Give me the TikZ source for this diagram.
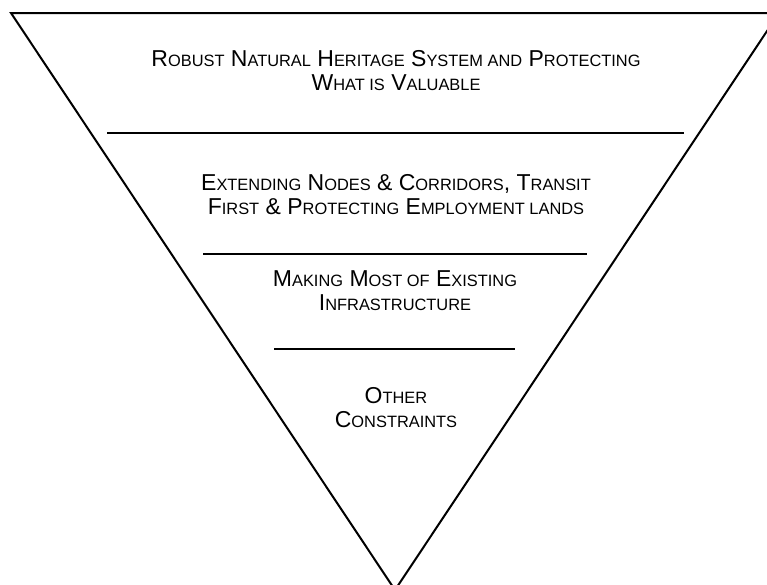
\documentclass[tikz,border=0pt]{standalone}
\usepackage{fontspec}
\setmainfont{Liberation Sans}
% Small capitals built by hand: full caps at the body size, smaller caps here
\newcommand\lc[1]{{\fontsize{16.4}{24}\selectfont #1}}
\begin{document}
\begin{tikzpicture}[x=1pt,y=-1pt,
  edge/.style={line width=2pt, line join=miter},
  tier/.style={align=center, font=\fontsize{23}{24}\selectfont, inner sep=0pt}]
\useasboundingbox (0,0) rectangle (767,584);
\clip (0,0) rectangle (767,584);
% outer inverted triangle
\coordinate (tl) at (11,13);
\coordinate (tr) at (779,13);
\coordinate (apex) at (395,590);
\draw[edge] (tl) -- (tr) -- (apex) -- cycle;
% dividers between the tiers
\coordinate (d1l) at (107,133); \coordinate (d1r) at (684,133);
\coordinate (d2l) at (203,254); \coordinate (d2r) at (587,254);
\coordinate (d3l) at (274,349); \coordinate (d3r) at (515,349);
\draw[edge] (d1l) -- (d1r);
\draw[edge] (d2l) -- (d2r);
\draw[edge] (d3l) -- (d3r);
% tier labels
\node[tier] (t1) at (396,71) {R\lc{OBUST} N\lc{ATURAL} H\lc{ERITAGE} S\lc{YSTEM AND} P\lc{ROTECTING}\\ W\lc{HAT IS} V\lc{ALUABLE}};
\node[tier] (t2) at (396,195) {E\lc{XTENDING} N\lc{ODES} \& C\lc{ORRIDORS}, T\lc{RANSIT}\\ F\lc{IRST} \& P\lc{ROTECTING} E\lc{MPLOYMENT LANDS}};
\node[tier] (t3) at (395,291) {M\lc{AKING} M\lc{OST OF} E\lc{XISTING}\\ I\lc{NFRASTRUCTURE}};
\node[tier] (t4) at (396,408) {O\lc{THER}\\ C\lc{ONSTRAINTS}};
\end{tikzpicture}
\end{document}
